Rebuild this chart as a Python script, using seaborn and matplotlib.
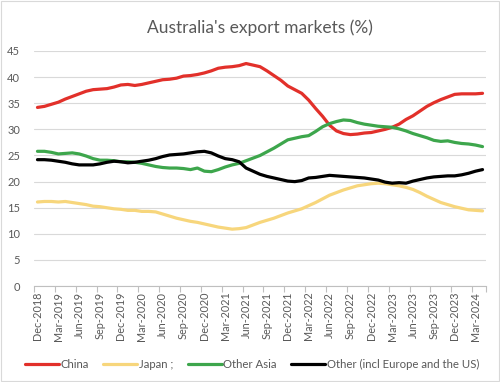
import numpy as np
import pandas as pd
import matplotlib
matplotlib.use("Agg")
import matplotlib.pyplot as plt
import seaborn as sns

# monthly, Dec-2018 .. Apr-2024
months = pd.date_range("2018-12-01", "2024-04-01", freq="MS").strftime("%b-%Y").tolist()

china = [34.2, 34.4, 34.8, 35.2, 35.8, 36.3, 36.8, 37.3, 37.6, 37.7,
         37.8, 38.1, 38.5, 38.6, 38.4, 38.6, 38.9, 39.2, 39.5, 39.6,
         39.8, 40.2, 40.3, 40.5, 40.8, 41.2, 41.7, 41.9, 42.0, 42.2,
         42.6, 42.3, 42.0, 41.2, 40.3, 39.4, 38.3, 37.6, 36.9, 35.6,
         34.0, 32.5, 30.8, 29.7, 29.2, 29.0, 29.1, 29.3, 29.4, 29.7,
         30.0, 30.4, 31.0, 31.9, 32.6, 33.5, 34.4, 35.1, 35.7, 36.2,
         36.7, 36.8, 36.8, 36.8, 36.9]
japan = [16.1, 16.2, 16.2, 16.1, 16.2, 16.0, 15.8, 15.6, 15.3, 15.2,
         15.0, 14.8, 14.7, 14.5, 14.5, 14.3, 14.3, 14.2, 13.8, 13.4,
         13.0, 12.7, 12.4, 12.2, 11.9, 11.6, 11.3, 11.1, 10.9, 11.0,
         11.2, 11.7, 12.2, 12.6, 13.0, 13.5, 14.0, 14.4, 14.8, 15.4,
         16.0, 16.7, 17.4, 17.9, 18.4, 18.8, 19.2, 19.4, 19.6, 19.7,
         19.6, 19.4, 19.2, 18.9, 18.5, 17.9, 17.2, 16.6, 16.0, 15.6,
         15.2, 14.9, 14.6, 14.5, 14.4]
other_asia = [25.8, 25.8, 25.6, 25.3, 25.4, 25.5, 25.3, 24.9, 24.4, 24.1,
              24.1, 24.0, 23.8, 23.8, 23.7, 23.5, 23.2, 22.9, 22.7, 22.6,
              22.6, 22.5, 22.3, 22.6, 22.0, 21.9, 22.3, 22.8, 23.2, 23.5,
              24.0, 24.5, 25.0, 25.7, 26.4, 27.2, 28.0, 28.3, 28.6, 28.8,
              29.6, 30.5, 31.1, 31.5, 31.8, 31.7, 31.3, 31.0, 30.8, 30.6,
              30.5, 30.4, 30.1, 29.7, 29.2, 28.8, 28.4, 27.9, 27.7, 27.8,
              27.5, 27.3, 27.2, 27.0, 26.7]
other = [24.2, 24.2, 24.1, 23.9, 23.7, 23.4, 23.2, 23.2, 23.2, 23.4,
         23.7, 23.9, 23.8, 23.6, 23.7, 23.9, 24.1, 24.4, 24.8, 25.1,
         25.2, 25.3, 25.5, 25.7, 25.8, 25.5, 24.9, 24.4, 24.2, 23.8,
         22.6, 22.0, 21.4, 21.0, 20.7, 20.4, 20.1, 20.0, 20.2, 20.7,
         20.8, 21.0, 21.2, 21.1, 21.0, 20.9, 20.8, 20.7, 20.5, 20.3,
         19.9, 19.7, 19.8, 19.7, 20.1, 20.4, 20.7, 20.9, 21.0, 21.1,
         21.1, 21.3, 21.6, 22.0, 22.3]

series_names = ["China", "Japan ;", "Other Asia", "Other (incl Europe and the US)"]
colors = ["#E2302A", "#F7D67C", "#3DA64C", "#000000"]

df = pd.DataFrame({"x": np.arange(len(months)), "China": china, "Japan ;": japan,
                   "Other Asia": other_asia, "Other (incl Europe and the US)": other})
long = df.melt(id_vars="x", var_name="series", value_name="pct")

sns.set_theme(style="white")
plt.rcParams["font.family"] = ["Lato", "DejaVu Sans"]

fig = plt.figure(figsize=(5, 3.82), dpi=100)
ax = fig.add_axes([0.068, 0.251, 0.904, 0.6155])

sns.lineplot(data=long, x="x", y="pct", hue="series", hue_order=series_names,
             palette=colors, linewidth=2.3, ax=ax)

ax.set_xlim(-0.5, len(months) - 0.5)
ax.set_ylim(0, 45)
ax.set_yticks(range(0, 46, 5))
ax.grid(axis="y", color="#D9D9D9", linewidth=0.8)
ax.set_axisbelow(True)
for s in ["left", "right", "top"]:
    ax.spines[s].set_visible(False)
ax.spines["bottom"].set_color("#BFBFBF")
ax.spines["bottom"].set_linewidth(0.8)

tick_idx = list(range(0, len(months), 3))
ax.set_xticks(tick_idx)
ax.set_xticklabels([months[i] for i in tick_idx], rotation=90)
ax.set_xticks([i - 0.5 for i in tick_idx] + [len(months) - 0.5], minor=True)
ax.tick_params(axis="x", which="major", length=0, pad=4, labelsize=7.8, labelcolor="#595959")
ax.tick_params(axis="x", which="minor", length=4, color="#BFBFBF", width=0.8, bottom=True)
ax.tick_params(axis="y", length=0, pad=10, labelsize=8, labelcolor="#595959")
ax.set_xlabel("")
ax.set_ylabel("")

ax.set_title("Australia's export markets (%)", fontsize=12.5, color="#595959", pad=13)

ax.legend(loc="upper center", bbox_to_anchor=(0.482, -0.265), ncol=4, frameon=False,
          fontsize=8.2, handlelength=3.0, handletextpad=0.1, columnspacing=1.3,
          labelcolor="#595959")

fig.patches.append(plt.Rectangle((0.002, 0.002), 0.996, 0.996, transform=fig.transFigure,
                                 fill=False, edgecolor="#D9D9D9", linewidth=0.8))

fig.savefig("out.png", dpi=100)
